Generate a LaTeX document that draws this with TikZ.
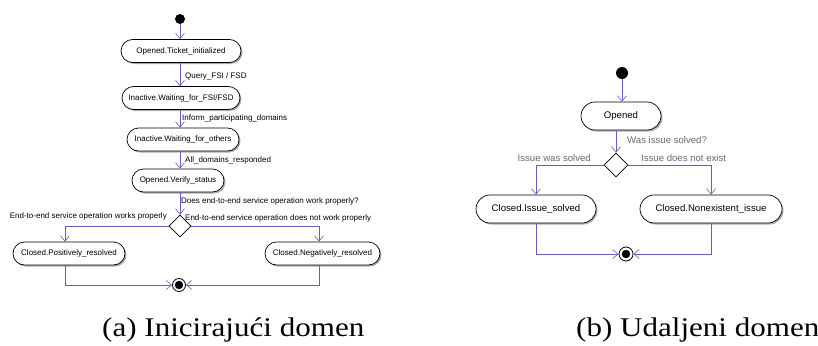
\documentclass[tikz,border=0pt]{standalone}
\usepackage{fontspec}
\setmainfont{Liberation Sans}
\newfontfamily\capfont[FakeStretch=1.15]{Liberation Serif}
\usetikzlibrary{arrows.meta,shapes.misc,shapes.geometric,shadows}
\definecolor{flowblue}{RGB}{96,96,192}
\definecolor{guardgray}{RGB}{105,105,105}
\definecolor{shade}{RGB}{170,170,170}

\begin{document}
\begin{tikzpicture}[x=1pt,y=-1pt,
  state/.style={rounded rectangle, draw=black, line width=0.7pt, fill=white,
    inner sep=0pt, minimum height=23pt,
    drop shadow={shadow xshift=1.5pt, shadow yshift=-1.5pt, fill=shade, opacity=1}},
  statebig/.style={state, minimum height=28pt, font=\fontsize{9.6}{11}\selectfont},
  smalltext/.style={font=\fontsize{8}{9.6}\selectfont},
  startdot/.style={circle, fill=black, minimum size=10pt, inner sep=0pt},
  enddot/.style={circle, draw=black, fill=white, line width=0.8pt, minimum size=13pt,
    inner sep=0pt, path picture={\fill[black] (path picture bounding box.center) circle (4.2pt);}},
  choice/.style={diamond, draw=black, line width=0.7pt, fill=white, aspect=1,
    minimum width=22pt, minimum height=22pt, inner sep=0pt},
  link/.style={draw=flowblue, line width=0.6pt},
  arr/.style={link, -{Straight Barb[length=5.5pt,width=9pt,line width=0.6pt]}},
  guard/.style={smalltext, inner sep=0pt},
  guardr/.style={font=\fontsize{9.6}{11}\selectfont, text=guardgray, inner sep=0pt},
  caption/.style={font=\capfont\fontsize{27}{32}\selectfont, inner sep=0pt, anchor=base west}
]
\useasboundingbox (0,0) rectangle (818,345);

% ---------- (a) initiating domain ----------
\node[startdot] (s1) at (180,19) {};
\node[state, smalltext, minimum width=120pt] (t1) at (181,51) {Opened.Ticket\_initialized};
\node[state, smalltext, minimum width=118pt] (t2) at (181,98) {Inactive.Waiting\_for\_FSI/FSD};
\node[state, smalltext, minimum width=112pt] (t3) at (183,139.5) {Inactive.Waiting\_for\_others};
\node[state, smalltext, minimum width=92pt] (t4) at (178,180.5) {Opened.Verify\_status};
\node[choice] (c1) at (180,226) {};
\node[state, smalltext, minimum width=112pt] (p1) at (69,253.5) {Closed.Positively\_resolved};
\node[state, smalltext, minimum width=115pt] (n1) at (322.5,253.5) {Closed.Negatively\_resolved};
\node[enddot] (e1) at (179,285) {};

\draw[arr] (s1) -- (s1 |- t1.north);
\draw[arr] (t1.south -| s1) -- (s1 |- t2.north);
\draw[arr] (t2.south -| s1) -- (s1 |- t3.north);
\draw[arr] (t3.south -| s1) -- (s1 |- t4.north);
\draw[arr] (t4.south -| s1) -- (c1.north);
\draw[arr] (c1.west) -| ([xshift=-4pt]p1.north);
\draw[arr] (c1.east) -| ([xshift=-3.5pt]n1.north);
\draw[arr] ([xshift=-4pt]p1.south) |- (e1.west);
\draw[arr] ([xshift=-3.5pt]n1.south) |- (e1.east);

\node[guard, anchor=west] (g1) at (185,76) {Query\_FSI / FSD};
\node[guard, anchor=west] (g2) at (182,118) {Inform\_participating\_domains};
\node[guard, anchor=west] (g3) at (185,160) {All\_domains\_responded};
\node[guard, anchor=west] (g4) at (181,201) {Does end-to-end service operation work properly?};
\node[guard, anchor=east] (g5) at (167,216) {End-to-end service operation works properly};
\node[guard, anchor=west] (g6) at (185,218) {End-to-end service operation does not work properly};

% ---------- (b) remote domain ----------
\node[startdot, minimum size=12pt] (s2) at (622,73) {};
\node[statebig, minimum width=80pt] (o2) at (621,116) {Opened};
\node[choice, minimum width=24pt, minimum height=24pt] (c2) at (616,165) {};
\node[statebig, minimum width=120pt] (b1) at (536,209) {Closed.Issue\_solved};
\node[statebig, minimum width=142pt] (b2) at (711,209) {Closed.Nonexistent\_issue};
\node[enddot, minimum size=14pt] (e2) at (626,254) {};

\draw[arr] (s2) -- (s2 |- o2.north);
\draw[arr] (o2.south -| c2) -- (c2.north);
\draw[arr] (c2.west) -| (b1.north);
\draw[arr] (c2.east) -| (b2.north);
\draw[arr] (b1.south) |- (e2.west);
\draw[arr] (b2.south) |- (e2.east);

\node[guardr, anchor=west] (h1) at (627,140) {Was issue solved?};
\node[guardr, anchor=east] (h2) at (591,158) {Issue was solved};
\node[guardr, anchor=west] (h3) at (641,158) {Issue does not exist};

% ---------- captions ----------
\node[caption] (capa) at (102,336) {(a) Inicirajući domen};
\node[caption] (capb) at (576,336) {(b) Udaljeni domen};
\end{tikzpicture}
\end{document}
